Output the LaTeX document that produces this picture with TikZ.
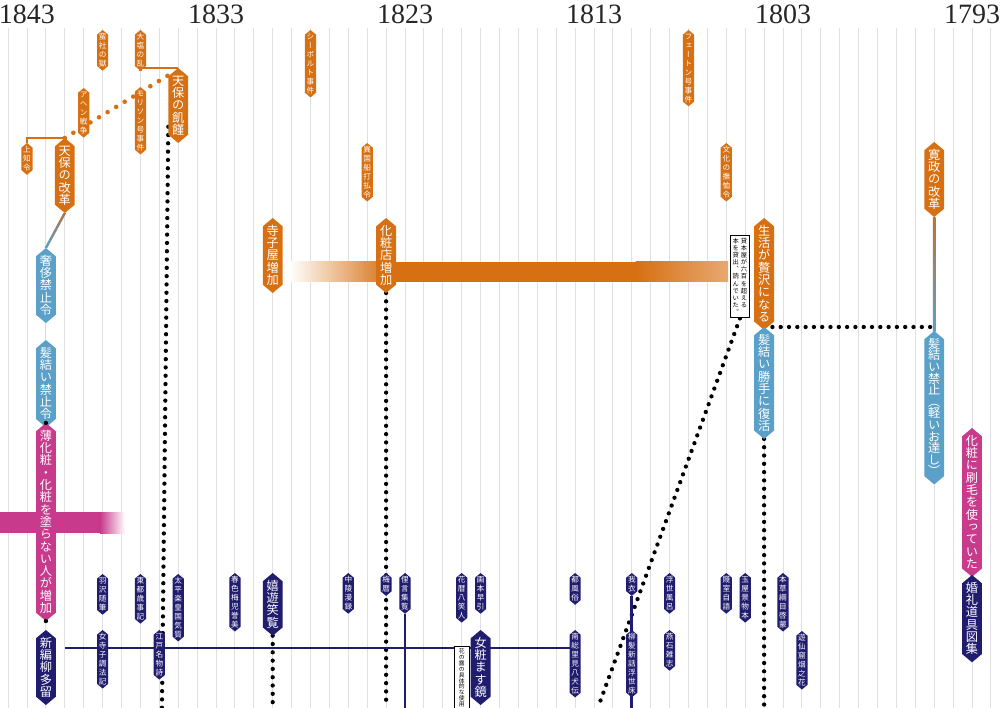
\documentclass[tikz,border=0pt]{standalone}
\usepackage{fontspec}
\setmainfont{Liberation Serif}
\newfontfamily\jp[RawFeature=+vert]{Noto Sans CJK JP}
\usetikzlibrary{shapes.symbols,calc}

\definecolor{evorange}{RGB}{214,112,18}
\definecolor{evblue}{RGB}{90,160,200}
\definecolor{evpink}{RGB}{200,58,140}
\definecolor{evnavy}{RGB}{32,28,110}
\definecolor{gridgray}{RGB}{224,224,228}

\pgfdeclarelayer{background}
\pgfsetlayers{background,main}

\newcommand{\vstrut}{\vrule height .86em depth .14em width 0pt}
\ExplSyntaxOn
\NewDocumentCommand{\vtext}{m}{
  \vtop{\lineskiplimit=-\maxdimen
    \tl_map_inline:nn {#1} {\hbox_to_wd:nn {1em} {\hss\vstrut ##1\hss}}}
}
\ExplSyntaxOff

\tikzset{
  tag/.style={shape=signal, signal to=north and south, signal pointer angle=100,
    anchor=north, text=white, inner ysep=-1.5pt, outer sep=0pt},
  big/.style={tag, inner xsep=3.8pt, font=\jp\fontsize{12.2}{12.3}\selectfont},
  small/.style={tag, inner xsep=1.8pt, font=\jp\fontsize{7.6}{8.9}\selectfont},
  yearlbl/.style={font=\fontsize{28}{28}\selectfont, text=black!85},
  gridline/.style={draw=gridgray, line width=0.9pt},
  bracket/.style={draw=evorange, line width=2.8pt},
  odots/.style={draw=evorange, line width=4.6pt, line cap=round, dash pattern=on 0pt off 10pt},
  kdots/.style={draw=black, line width=4.3pt, line cap=round, dash pattern=on 0pt off 8.3pt},
  navyline/.style={draw=evnavy, line width=2.8pt},
  notebox/.style={draw=black, fill=white, line width=1.1pt, inner xsep=2pt, inner ysep=2.5pt,
    anchor=north, font=\jp\fontsize{6.3}{7.1}\selectfont},
}

\begin{document}
\begin{tikzpicture}[x=18.9pt, y=-1pt]
\useasboundingbox (-1.42857,0) rectangle (51.4815,708);
\coordinate (bottom) at (0,708);

% years
\node[yearlbl] (y1843) at (0,14) {1843};
\node[yearlbl] (y1833) at (10,14) {1833};
\node[yearlbl] (y1823) at (20,14) {1823};
\node[yearlbl] (y1813) at (30,14) {1813};
\node[yearlbl] (y1803) at (40,14) {1803};
\node[yearlbl] (y1793) at (50,14) {1793};

% politics
\node[small, fill=evorange] (jochi) at (0,143) {\vtext{上知令}};
\node[big, fill=evorange] (kaikaku) at (2,138) {\vtext{天保の改革}};
\node[small, fill=evorange] (ahen) at (3,88) {\vtext{アヘン戦争}};
\node[small, fill=evorange] (bansha) at (4,30) {\vtext{蛮社の獄}};
\node[small, fill=evorange] (oshio) at (6,30) {\vtext{大塩の乱}};
\node[small, fill=evorange] (morrison) at (6,87) {\vtext{モリソン号事件}};
\node[big, fill=evorange] (kikin) at (8,68) {\vtext{天保の飢饉}};
\node[small, fill=evorange] (siebold) at (15,30) {\vtext{シーボルト事件}};
\node[small, fill=evorange] (ikokusen) at (18,143) {\vtext{異国船打払令}};
\node[big, fill=evorange] (terakoya) at (13,218) {\vtext{寺子屋増加}};
\node[big, fill=evorange] (keshoten) at (19,218) {\vtext{化粧店増加}};
\node[small, fill=evorange] (phaeton) at (35,30) {\vtext{フェートン号事件}};
\node[small, fill=evorange] (bunka) at (37,143) {\vtext{文化の撫恤令}};
\node[big, fill=evorange] (seikatsu) at (39,218) {\vtext{生活が贅沢になる}};
\node[big, fill=evorange] (kansei) at (48,142) {\vtext{寛政の改革}};
\node[notebox] (kashihon) at (37.72,235) {\vtext{本を貸出、読んでいた。}\hspace{2pt}\vtext{貸本屋が六百を超える}};

% hair and makeup
\node[big, fill=evblue] (shashi) at (1,248) {\vtext{奢侈禁止令}};
\node[big, fill=evblue] (kamiyui) at (1,340) {\vtext{髪結い禁止令}};
\node[big, fill=evblue] (fukkatsu) at (39,327) {\vtext{髪結い勝手に復活}};
\node[big, fill=evblue, font=\jp\fontsize{12.2}{11.6}\selectfont] (kinshi) at (48,331) {\vtext{髪結い禁止（軽いお達し）}};
\node[big, fill=evpink] (usugesho) at (1,423) {\vtext{薄化粧・化粧を塗らない人が増加}};
\node[big, fill=evpink] (hake) at (50,428) {\vtext{化粧に刷毛を使っていた}};

% books
\node[big, fill=evnavy] (yanagi) at (1,630) {\vtext{新編柳多留}};
\node[small, fill=evnavy] (hanezawa) at (4,574) {\vtext{羽沢随筆}};
\node[small, fill=evnavy] (onnachoho) at (4,630) {\vtext{女寺子調法記}};
\node[small, fill=evnavy] (toto) at (6,574) {\vtext{東都歳事記}};
\node[small, fill=evnavy] (edomeibutsu) at (7,630) {\vtext{江戸名物詩}};
\node[small, fill=evnavy] (taihei) at (8,574) {\vtext{太平楽皇国気質}};
\node[small, fill=evnavy] (shunshoku) at (11,573) {\vtext{春色梅児誉美}};
\node[big, fill=evnavy] (kiyu) at (13,573) {\vtext{嬉遊笑覧}};
\node[small, fill=evnavy] (churyo) at (17,573) {\vtext{中陵漫録}};
\node[small, fill=evnavy] (kyokun) at (19,573) {\vtext{梅暦}};
\node[small, fill=evnavy] (rigen) at (20,573) {\vtext{俚言集覧}};
\node[small, fill=evnavy] (hanagoyomi) at (23,573) {\vtext{花暦八笑人}};
\node[small, fill=evnavy] (ehon) at (24,573) {\vtext{画本早引}};
\node[notebox, inner xsep=4.5pt, inner ysep=2pt, font=\jp\fontsize{5.8}{5.9}\selectfont] (hananotsuyu) at (23,646) {\vtext{花の露の具体的な使用}};
\node[big, fill=evnavy] (masukagami) at (24,630) {\vtext{女粧ます鏡}};
\node[small, fill=evnavy] (keiseiden) at (29,573) {\vtext{都風俗}};
\node[small, fill=evnavy] (hakkenden) at (29,630) {\vtext{南総里見八犬伝}};
\node[small, fill=evnavy] (wagakoromo) at (32,573) {\vtext{我衣}};
\node[small, fill=evnavy] (ukiyodoko) at (32,630) {\vtext{柳髪新話浮世床}};
\node[small, fill=evnavy] (ukiyoburo) at (34,573) {\vtext{浮世風呂}};
\node[small, fill=evnavy] (enseki) at (34,630) {\vtext{燕石雑志}};
\node[small, fill=evnavy] (rinshitsu) at (37,573) {\vtext{賤室自語}};
\node[small, fill=evnavy] (tamaya) at (38,573) {\vtext{玉屋景物本}};
\node[small, fill=evnavy] (honzo) at (40,573) {\vtext{本草綱目啓蒙}};
\node[small, fill=evnavy] (yusen) at (41,631) {\vtext{遊仙窟烟之花}};
\node[big, fill=evnavy] (konrei) at (50,575) {\vtext{婚礼道具図集}};

\fill (usugesho.north) circle (2.2pt);
\fill (usugesho.south) circle (2.2pt);

\begin{pgfonlayer}{background}
  \foreach \n in {-1,...,51}
    \draw[gridline] (\n,28) -- (\n,708);
  % bars
  \shade[left color=evorange!0, right color=evorange] (13.9,262) rectangle (19.3,282);
  \fill[evorange] (19.3,262) rectangle (32.2,282);
  \shade[left color=evorange, right color=evorange!60] (32.2,262) rectangle (37.1,282);
  \fill[evpink] (-1.5,512) rectangle (3.86,533);
  \shade[left color=evpink, right color=evpink!0] (3.86,512) rectangle (5.19,533);
\end{pgfonlayer}

\begin{pgfonlayer}{background}
  \draw[bracket] (jochi.north) |- (kaikaku.north);
  \draw[bracket] (oshio.south) |- (kikin.north);
  \draw[odots] (kaikaku.north) -- (kikin.100);
  \shade[top color=evorange!55!gray, bottom color=evblue]
    ($(kaikaku.south)+(-1.4pt,0pt)$) -- ($(kaikaku.south)+(1.4pt,0pt)$)
    -- ($(shashi.north)+(1.4pt,0pt)$) -- ($(shashi.north)+(-1.4pt,0pt)$) -- cycle;
  \shade[top color=evorange!70!gray, bottom color=evblue]
    ($(kansei.south)+(-1.3pt,0pt)$) rectangle ($(kinshi.north)+(1.3pt,0pt)$);
  \draw[evblue!35, line width=1pt] (shashi.south) -- (kamiyui.north);
  \draw[kdots] (kikin.245) -- (7.14,708);
  \draw[kdots] (keshoten.south) -- (keshoten.south |- bottom);
  \draw[kdots] (kiyu.south) -- (kiyu.south |- bottom);
  \draw[kdots] (fukkatsu.south) -- (fukkatsu.south |- bottom);
  \draw[kdots] (kashihon.south) -- (30.2,708);
  \draw[kdots] (fukkatsu.north) -- (fukkatsu.north -| kinshi.north);
  \draw[navyline] (2.0,648) -- (2.0,648 -| hakkenden.west);
  \draw[navyline] (rigen.south) -- (rigen.south |- bottom);
  \draw[navyline] (wagakoromo.south) -- (wagakoromo.south |- bottom);
\end{pgfonlayer}
\end{tikzpicture}
\end{document}
